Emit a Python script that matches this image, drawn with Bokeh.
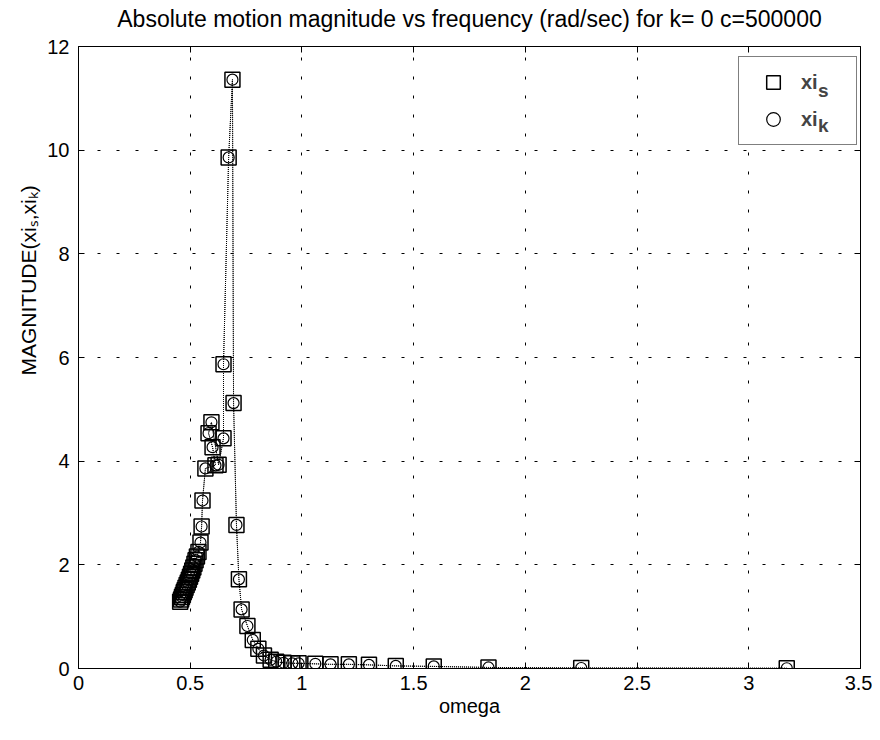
from bokeh.plotting import figure
from bokeh.models import Range1d, FixedTicker, LinearAxis, Legend, LegendItem, Title
from bokeh.embed import file_html
from bokeh.resources import INLINE

# ---- data ----
omega = [0.455, 0.459, 0.463, 0.467, 0.471, 0.475, 0.479, 0.484, 0.489, 0.494,
         0.499, 0.504, 0.509, 0.514, 0.519, 0.524, 0.530, 0.537, 0.546, 0.551,
         0.555, 0.568, 0.613, 0.600, 0.582, 0.595, 0.627, 0.649, 0.649, 0.672,
         0.689, 0.694, 0.707, 0.718, 0.730, 0.756, 0.780, 0.805, 0.830, 0.860,
         0.885, 0.918, 0.957, 0.985, 1.060, 1.128, 1.210, 1.300, 1.420, 1.590,
         1.835, 2.250, 3.170]
xi_s = [1.29, 1.33, 1.38, 1.42, 1.47, 1.51, 1.56, 1.61, 1.66, 1.71,
        1.77, 1.83, 1.89, 1.95, 2.02, 2.09, 2.16, 2.25, 2.43, 2.74,
        3.24, 3.86, 3.92, 4.27, 4.54, 4.75, 3.93, 4.44, 5.87, 9.86,
        11.36, 5.12, 2.77, 1.72, 1.14, 0.82, 0.55, 0.38, 0.25, 0.17,
        0.13, 0.11, 0.10, 0.10, 0.09, 0.08, 0.08, 0.07, 0.05, 0.04,
        0.02, 0.01, 0.005]
xi_k = [1.29, 1.33, 1.38, 1.42, 1.47, 1.51, 1.56, 1.61, 1.66, 1.71,
        1.77, 1.83, 1.89, 1.95, 2.02, 2.09, 2.16, 2.25, 2.43, 2.74,
        3.24, 3.86, 3.92, 4.27, 4.54, 4.75, 3.93, 4.44, 5.87, 9.86,
        11.36, 5.12, 2.77, 1.72, 1.14, 0.82, 0.55, 0.38, 0.25, 0.17,
        0.13, 0.11, 0.10, 0.10, 0.09, 0.08, 0.08, 0.07, 0.05, 0.04,
        0.02, 0.01, 0.005]

x_ticks = [0, 0.5, 1, 1.5, 2, 2.5, 3, 3.5]
x_tick_labels = ["0", "0.5", "1", "1.5", "2", "2.5", "3", "3.5"]
y_ticks = [0, 2, 4, 6, 8, 10, 12]
y_tick_labels = ["0", "2", "4", "6", "8", "10", "12"]

title_text = "Absolute motion magnitude vs frequency (rad/sec) for k= 0 c=500000"
x_label = "omega"
y_label = "MAGNITUDE(xi\u209b,xi\u2096)"
legend_labels = ["xi", "xi"]
legend_subs = ["s", "k"]

FONT = "Liberation Sans"

p = figure(frame_width=782, frame_height=622,
           min_border_left=78, min_border_right=12,
           min_border_top=46, min_border_bottom=58,
           x_range=Range1d(0, 3.5), y_range=Range1d(0, 12),
           output_backend="svg", toolbar_location=None,
           title=title_text)

p.background_fill_color = "white"
p.border_fill_color = "white"
p.outline_line_color = "black"
p.outline_line_width = 1
p.outline_line_alpha = 1

p.title.text_font = FONT
p.title.text_font_size = "23px"
p.title.text_font_style = "normal"
p.title.align = "center"
p.title.text_color = "black"
p.title.standoff = 4

for ax, ticks, labels in ((p.xaxis[0], x_ticks, x_tick_labels), (p.yaxis[0], y_ticks, y_tick_labels)):
    ax.ticker = FixedTicker(ticks=ticks)
    ax.major_label_overrides = {t: l for t, l in zip(ticks, labels)}
    ax.major_label_text_font = FONT
    ax.major_label_text_font_size = "20px"
    ax.major_label_text_color = "black"
    ax.major_tick_in = 6
    ax.major_tick_out = 0
    ax.minor_tick_line_color = None
    ax.axis_line_color = "black"
    ax.major_tick_line_color = "black"
    ax.axis_label_text_font = FONT
    ax.axis_label_text_font_size = "20px"
    ax.axis_label_text_font_style = "normal"
    ax.axis_label_text_color = "black"

p.xaxis[0].axis_label = x_label
p.xaxis[0].major_label_standoff = 7
p.xaxis[0].axis_label_standoff = 2
p.yaxis[0].major_label_standoff = 9

# inward ticks on the top and right edges (box style)
top_ax = LinearAxis(ticker=FixedTicker(ticks=x_ticks), major_label_text_font_size="2px",
                    major_label_text_color=None,
                    major_tick_in=6, major_tick_out=0, minor_tick_line_color=None,
                    axis_line_color=None, major_label_standoff=0)
right_ax = LinearAxis(ticker=FixedTicker(ticks=y_ticks), major_label_text_font_size="2px",
                      major_label_text_color=None,
                      major_tick_in=6, major_tick_out=0, minor_tick_line_color=None,
                      axis_line_color=None, major_label_standoff=0)
# invisible spacer axis that lifts the title
spacer_ax = LinearAxis(ticker=FixedTicker(ticks=x_ticks), major_label_text_font_size="2px",
                       major_label_text_color=None,
                       major_tick_in=0, major_tick_out=13, major_tick_line_color=None,
                       minor_tick_line_color=None, axis_line_color=None,
                       major_label_standoff=0)
p.add_layout(top_ax, "above")
p.add_layout(spacer_ax, "above")
p.add_layout(right_ax, "right")

# y axis label as a side title so it can sit off-centre like the original
p.add_layout(Title(text=y_label, align="left", offset=293, standoff=10,
                   text_font=FONT, text_font_size="21px", text_font_style="normal",
                   text_color="black"), "left")

p.xgrid.ticker = FixedTicker(ticks=x_ticks)
p.ygrid.ticker = FixedTicker(ticks=y_ticks)
for g in (p.xgrid[0], p.ygrid[0]):
    g.grid_line_color = "black"
    g.grid_line_alpha = 1
    g.grid_line_width = 1
    g.grid_line_dash = "3 16"

p.line(omega, xi_s, line_color="black", line_width=1, line_dash="1 1")
p.line(omega, xi_k, line_color="black", line_width=1, line_dash="1 1")
sq = p.scatter(omega, xi_s, marker="square", size=15, fill_color=None,
               line_color="black", line_width=1.5)
ci = p.scatter(omega, xi_k, marker="circle", size=11, fill_color=None,
               line_color="black", line_width=1.2)
# invisible renderer used only to carry the legend subscripts
ghost = p.scatter(omega[:1], xi_s[:1], size=1, fill_alpha=0, line_alpha=0)

legend = Legend(items=[LegendItem(label=legend_labels[0], renderers=[sq]),
                       LegendItem(label=legend_labels[1], renderers=[ci])],
                location=(660, 523), margin=0, padding=8, spacing=3,
                glyph_height=34, glyph_width=52, label_height=34,
                label_standoff=2, label_width=47,
                label_text_font=FONT, label_text_font_size="20px",
                label_text_font_style="bold",
                border_line_color="black", border_line_width=1,
                background_fill_color="white", background_fill_alpha=1)
p.add_layout(legend)

sub_legend = Legend(items=[LegendItem(label=legend_subs[0], renderers=[ghost]),
                           LegendItem(label=legend_subs[1], renderers=[ghost])],
                    location=(739, 525), margin=0, padding=0, spacing=0,
                    glyph_height=35, glyph_width=1, label_height=35,
                    label_standoff=0, label_width=1,
                    label_text_font=FONT, label_text_font_size="19px",
                    label_text_font_style="bold",
                    border_line_color=None, background_fill_alpha=0)
p.add_layout(sub_legend)

open("out.html", "w").write(file_html(p, INLINE))
